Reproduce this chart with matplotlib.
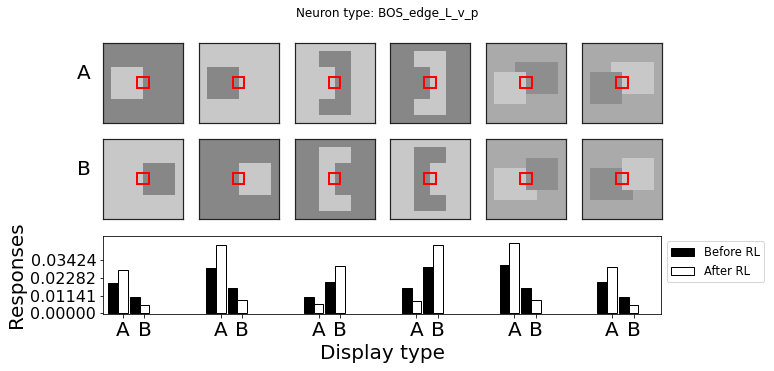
import numpy as np
import matplotlib
matplotlib.use('Agg')
import matplotlib.pyplot as plt
from matplotlib.patches import Rectangle, Patch

# gray levels used in the stimuli
D, L, M, MD = 135, 200, 170, 142

# stimuli: background level + rects (x0, x1, y0, y1, level) in panel fractions
row_a = [
    (D, [(0.1, 0.5, 0.3, 0.7, L)]),
    (L, [(0.1, 0.5, 0.3, 0.7, D)]),
    (L, [(0.3, 0.7, 0.1, 0.9, D), (0.3, 0.5, 0.3, 0.7, L)]),
    (D, [(0.3, 0.7, 0.1, 0.9, L), (0.3, 0.5, 0.3, 0.7, D)]),
    (M, [(0.3667, 0.9, 0.2333, 0.6333, MD), (0.1, 0.5, 0.3667, 0.7667, L)]),
    (M, [(0.3667, 0.9, 0.2333, 0.6333, L), (0.1, 0.5, 0.3667, 0.7667, MD)]),
]
row_b = [
    (L, [(0.5, 0.9, 0.3, 0.7, D)]),
    (D, [(0.5, 0.9, 0.3, 0.7, L)]),
    (D, [(0.3, 0.7, 0.1, 0.9, L), (0.5, 0.7, 0.3, 0.7, D)]),
    (L, [(0.3, 0.7, 0.1, 0.9, D), (0.5, 0.7, 0.3, 0.7, L)]),
    (M, [(0.1, 0.6333, 0.3667, 0.7667, L), (0.5, 0.9, 0.2333, 0.6333, MD)]),
    (M, [(0.1, 0.6333, 0.3667, 0.7667, MD), (0.5, 0.9, 0.2333, 0.6333, L)]),
]

# responses, one value per group (A / B) and condition
before_a = [0.0199, 0.0293, 0.0106, 0.0164, 0.0315, 0.0203]
after_a = [0.0279, 0.0440, 0.0059, 0.0081, 0.045648, 0.0298]
before_b = [0.0106, 0.0164, 0.0203, 0.0300, 0.0164, 0.0106]
after_b = [0.0053, 0.0085, 0.0304, 0.0440, 0.0085, 0.0053]


def make_img(bg, rects, n=240):
    img = np.full((n, n), bg, dtype=float)
    for x0, x1, y0, y1, lev in rects:
        img[int(round(y0*n)):int(round(y1*n)), int(round(x0*n)):int(round(x1*n))] = lev
    return img


W, H = 774, 371
fig = plt.figure(figsize=(W/72, H/72), dpi=72)
fig.suptitle('Neuron type: BOS_edge_L_v_p', fontsize=12)

for r, (row, lab, top) in enumerate([(row_a, 'A', 43), (row_b, 'B', 139)]):
    for i, (bg, rects) in enumerate(row):
        left = 103 + i*95.8
        ax = fig.add_axes([left/W, 1 - (top + 80)/H, 80/W, 80/H])
        ax.imshow(make_img(bg, rects), cmap='gray', vmin=0, vmax=255,
                  extent=(0, 1, 1, 0), interpolation='nearest')
        ax.add_patch(Rectangle((0.425, 0.42), 0.145, 0.145, fill=False,
                               ec='red', lw=2))
        ax.set_xlim(0, 1)
        ax.set_ylim(1, 0)
        ax.set_xticks([])
        ax.set_yticks([])
        for s in ax.spines.values():
            s.set_color('#222222')
            s.set_linewidth(1.2)
        if i == 0:
            ax.text(-0.2375, 0.5, lab, transform=ax.transAxes, ha='center',
                    va='bottom', fontsize=20)

# bar chart
bx = fig.add_axes([103.3/W, 1 - 314.3/H, (661 - 103.3)/W, (314.3 - 235.7)/H])
w = 0.1
xa = np.arange(6)
xb = xa + 0.22
bx.bar(xa - w, before_a, w, color='k', ec='k', lw=1)
bx.bar(xa, after_a, w, color='w', ec='k', lw=1)
bx.bar(xb - w, before_b, w, color='k', ec='k', lw=1)
bx.bar(xb, after_b, w, color='w', ec='k', lw=1)

ymax = max(after_a + after_b + before_a + before_b)
yt = ymax*np.array([0, 0.25, 0.5, 0.75])
bx.set_yticks(yt)
bx.set_yticklabels([f'{v:.5f}' for v in yt], fontsize=16)
ticks = np.sort(np.concatenate([xa, xb]))
bx.set_xticks(ticks)
bx.set_xticklabels(['A', 'B']*6, fontsize=20)
bx.set_xlim(-0.2, 5.5)
bx.set_ylim(-0.0006, 0.0501)
bx.set_ylabel('Responses', fontsize=20)
bx.set_xlabel('Display type', fontsize=20)
bx.legend(handles=[Patch(fc='k', ec='k', label='Before RL'),
                   Patch(fc='w', ec='k', label='After RL')],
          loc='upper left', bbox_to_anchor=(1, 1), fontsize=11.5)

fig.savefig('out.png', dpi=72)
